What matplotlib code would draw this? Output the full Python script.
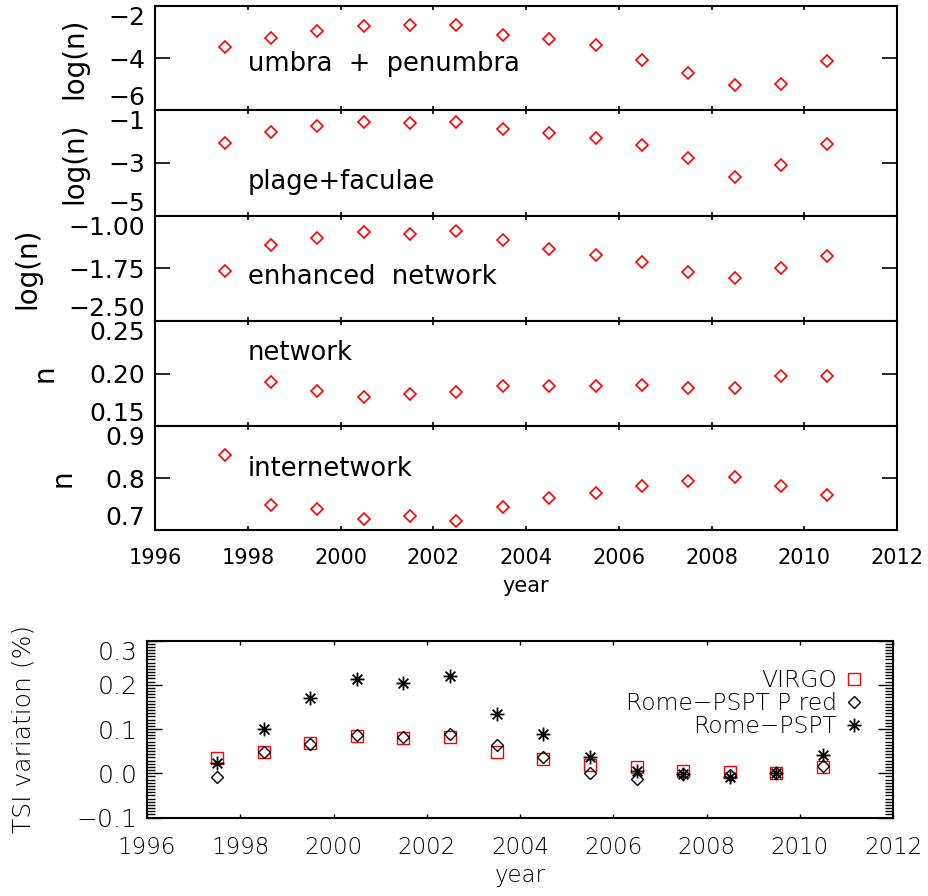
import numpy as np
import matplotlib as mpl
mpl.use('Agg')
import matplotlib.pyplot as plt
from matplotlib.path import Path
from matplotlib.ticker import MultipleLocator

#%% DATA
years = [1997.5, 1998.5, 1999.5, 2000.5, 2001.5, 2002.5, 2003.5,
         2004.5, 2005.5, 2006.5, 2007.5, 2008.5, 2009.5, 2010.5]

umbra_penumbra = [-3.59, -3.24, -2.97, -2.78, -2.74, -2.72, -3.12,
                  -3.28, -3.49, -4.09, -4.58, -5.04, -4.99, -4.13]
plage_faculae = [-2.26, -1.84, -1.59, -1.46, -1.50, -1.46, -1.72,
                 -1.88, -2.07, -2.31, -2.80, -3.54, -3.09, -2.29]
enhanced_network = [-1.786, -1.414, -1.310, -1.233, -1.261, -1.214, -1.343,
                    -1.467, -1.553, -1.661, -1.796, -1.881, -1.747, -1.576]
network = [np.nan, 0.1916, 0.1830, 0.1773, 0.1805, 0.1827, 0.1884,
           0.1878, 0.1884, 0.1888, 0.1859, 0.1865, 0.1976, 0.1976]
internetwork = [0.844, 0.749, 0.741, 0.722, 0.726, 0.717, 0.744,
                0.762, 0.772, 0.784, 0.795, 0.801, 0.784, 0.768]

tsi_virgo = [0.035, 0.049, 0.068, 0.085, 0.079, 0.083, 0.049,
             0.033, 0.019, 0.0135, 0.006, 0.002, 0.0, 0.014]
tsi_pspt_pred = [-0.008, 0.049, 0.065, 0.086, 0.081, 0.088, 0.064,
                 0.037, 0.001, -0.013, -0.002, -0.004, 0.0, 0.017]
tsi_pspt = [0.024, 0.101, 0.170, 0.213, 0.203, 0.219, 0.133,
            0.089, 0.037, 0.006, -0.001, -0.008, 0.0, 0.041]

panels = [
    # label, ylabel, data, ylim, yticks, tick format
    ('umbra  +  penumbra', 'log(n)', umbra_penumbra, (-6, -2), [-6, -4, -2], '%d'),
    ('plage+faculae', 'log(n)', plage_faculae, (-5, -1), [-5, -3, -1], '%d'),
    ('enhanced  network', 'log(n)', enhanced_network, (-2.5, -1.0), [-2.5, -1.75, -1.0], '%.2f'),
    ('network', 'n', network, (0.15, 0.25), [0.15, 0.20, 0.25], '%.2f'),
    ('internetwork', 'n', internetwork, (0.7, 0.9), [0.7, 0.8, 0.9], '%.1f'),
]
label_ypos = [0.44, 0.32, 0.42, 0.70, 0.59]
ylabel_xpos = [-0.090, -0.090, -0.153, -0.130, -0.106]

#%% FIGURE
plt.rcParams['font.family'] = 'DejaVu Sans'
W, H = 929, 896
fig = plt.figure(figsize=(W/100, H/100), dpi=100)

edges = [6, 110, 216, 321, 426, 530]
left, right = 155, 897

for i, (lab, ylab, vals, ylim, yt, fmt) in enumerate(panels):
    top, bot = edges[i], edges[i+1]
    ax = fig.add_axes([left/W, 1-bot/H, (right-left)/W, (bot-top)/H])
    ax.plot(years, vals, ls='none', marker='D', ms=6.6, mfc='none',
            mec='red', mew=1.2)
    ax.set_xlim(1996, 2012)
    ax.set_ylim(*ylim)
    ax.set_xticks(np.arange(1996, 2013, 2))
    ax.set_yticks(yt)
    tl = ax.set_yticklabels([(fmt % v).replace('-', '\u2212') for v in yt], fontsize=18)
    # end labels sit inside the panel, as in the original
    tl[0].set_verticalalignment('bottom')
    tl[-1].set_verticalalignment('top')
    ax.tick_params(axis='y', direction='in', length=11, width=1.2,
                   left=True, right=True, pad=7)
    ax.tick_params(axis='x', direction='in', length=3, width=1.2,
                   top=True, bottom=True, pad=13, labelsize=15)
    if i < len(panels)-1:
        ax.tick_params(axis='x', labelbottom=False)
    else:
        ax.set_xlabel('year', fontsize=15, labelpad=6)
    for s in ax.spines.values():
        s.set_linewidth(1.5)
    ax.set_ylabel(ylab, fontsize=20)
    ax.yaxis.set_label_coords(ylabel_xpos[i], 0.5)
    ax.text(1998.0, ylim[0] + label_ypos[i]*(ylim[1]-ylim[0]), lab,
            fontsize=18.5, va='center', ha='left')

#%% TSI PANEL
ast = Path([(-1, 0), (1, 0), (0, -1), (0, 1),
            (-0.7, -0.7), (0.7, 0.7), (-0.7, 0.7), (0.7, -0.7)],
           [Path.MOVETO, Path.LINETO] * 4)

bx0, bx1, by0, by1 = 147, 893, 640.5, 817.5
ax = fig.add_axes([bx0/W, 1-by1/H, (bx1-bx0)/W, (by1-by0)/H])
l1, = ax.plot(years, tsi_virgo, ls='none', marker='s', ms=9, mfc='none',
              mec='red', mew=1.0, label='VIRGO')
l2, = ax.plot(years, tsi_pspt_pred, ls='none', marker='D', ms=5.9, mfc='none',
              mec='black', mew=1.0, label='Rome\u2212PSPT P red')
l3, = ax.plot(years, tsi_pspt, ls='none', marker=ast, ms=10, mfc='none',
              mec='black', mew=1.3, label='Rome\u2212PSPT')
ax.set_xlim(1996, 2012)
ax.set_ylim(-0.1, 0.3)
ax.set_xticks(np.arange(1996, 2013, 2))
ax.set_yticks([-0.1, 0.0, 0.1, 0.2, 0.3])
tl = ax.set_yticklabels(['\u22120.1', '0.0', '0.1', '0.2', '0.3'])
tl[-1].set_verticalalignment('top')
ax.yaxis.set_minor_locator(MultipleLocator(0.1/14))
ax.tick_params(axis='y', which='major', direction='in', length=11, width=1.0,
               left=True, right=True, pad=7, labelsize=18)
ax.tick_params(axis='y', which='minor', direction='in', length=5.5, width=1.0,
               left=True, right=True)
ax.tick_params(axis='x', direction='in', length=3, width=1.0,
               top=True, bottom=True, pad=13, labelsize=16.5)
for t in ax.get_xticklabels() + ax.get_yticklabels():
    t.set_fontweight('light')
for s in ax.spines.values():
    s.set_linewidth(1.5)
ax.set_xlabel('year', fontsize=16.5, fontweight='light', labelpad=4)
ax.set_ylabel('TSI variation (%)', fontsize=18, fontweight='light')
ax.yaxis.set_label_coords(-0.150, 0.5)

leg = ax.legend(handles=[l1, l2, l3], loc='upper right', markerfirst=False,
                frameon=False, fontsize=16.8, labelspacing=0.0,
                handlelength=0.9, handletextpad=0.3, borderpad=0,
                borderaxespad=0, bbox_to_anchor=(0.962, 0.84))
for t in leg.get_texts():
    t.set_fontweight('light')

fig.savefig('out.png', dpi=100)
